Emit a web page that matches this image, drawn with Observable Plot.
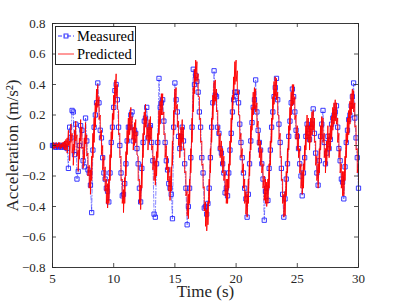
<!DOCTYPE html>
<html><head><meta charset="utf-8">
<script src="https://cdn.jsdelivr.net/npm/d3@7"></script>
<script src="https://cdn.jsdelivr.net/npm/@observablehq/plot@0.6"></script>
<style>
body{margin:0;background:#fff;}
#wrap{position:relative;width:396px;height:306px;}
#legend{position:absolute;left:55px;top:26px;width:79px;height:37px;border:0.8px solid #262626;background:#fff;font-family:"Liberation Serif",serif;font-size:14.5px;color:#000;}
#legend .row{position:absolute;left:0;height:18px;display:flex;align-items:center;}
#legend svg{margin-left:1px;margin-right:2px;}
</style></head><body><div id="wrap"></div>
<script>
const t0 = 5, dt = 0.1;
const measured = [
 0.00, 0.00,-0.01,-0.01, 0.00,-0.01, 0.00,-0.01,-0.01, 0.00,
-0.01, 0.01,-0.02,-0.15, 0.12, 0.05, 0.23, 0.22,-0.06, 0.14,
-0.22,-0.17, 0.00, 0.13, 0.10,-0.10,-0.14, 0.18, 0.03,-0.16,
-0.18,-0.26,-0.44,-0.03, 0.12, 0.20, 0.28, 0.41, 0.28, 0.10,
 0.05,-0.08,-0.18,-0.22,-0.28,-0.30,-0.37,-0.18, 0.02, 0.12,
 0.25, 0.36, 0.40, 0.30, 0.12, 0.00,-0.18,-0.33,-0.32,-0.25,
-0.12, 0.03, 0.12, 0.12, 0.20, 0.22, 0.03, 0.10, 0.08,-0.02,
-0.12,-0.28,-0.37,-0.15, 0.02, 0.16, 0.18, 0.25, 0.05, 0.12,
 0.13, 0.02,-0.10,-0.45,-0.47,-0.12, 0.02, 0.44, 0.25, 0.28,
 0.30, 0.16, 0.02,-0.10,-0.16,-0.25,-0.28,-0.32,-0.48, 0.12,
 0.41, 0.30, 0.22, 0.06,-0.02, 0.06, 0.12, 0.03,-0.12,-0.28,
-0.52,-0.40,-0.28,-0.08, 0.12, 0.50, 0.40, 0.46, 0.42, 0.35,
 0.22, 0.12,-0.08,-0.18,-0.41,-0.40,-0.45,-0.38,-0.28,-0.08,
 0.12, 0.28, 0.49, 0.33, 0.32, 0.12, 0.08,-0.02,-0.05,-0.12,
-0.18,-0.31,-0.28,-0.33,-0.18,-0.03, 0.08, 0.22, 0.30, 0.35,
 0.32, 0.35, 0.28, 0.14, 0.02,-0.08,-0.18,-0.28,-0.35,-0.47,
-0.32,-0.12, 0.03, 0.15, 0.25, 0.30, 0.43, 0.22, 0.10, 0.02,
-0.03,-0.12,-0.22,-0.49,-0.30,-0.28,-0.36,-0.15,-0.03, 0.12,
 0.22, 0.32, 0.38, 0.44, 0.30, 0.14, 0.02,-0.15,-0.32,-0.47,
-0.35,-0.22,-0.12, 0.06, 0.16, 0.28, 0.37, 0.32, 0.22, 0.10,
 0.06,-0.02,-0.12,-0.20,-0.33,-0.18,-0.08, 0.06, 0.14, 0.08,
 0.04, 0.12, 0.14, 0.24, 0.08,-0.05,-0.18,-0.26,-0.10, 0.06,
 0.14, 0.23, 0.02,-0.12,-0.05, 0.06,-0.02, 0.04, 0.14, 0.18,
 0.20, 0.22, 0.26, 0.12,-0.02,-0.10,-0.22,-0.24,-0.35,-0.14,
 0.02, 0.10, 0.17, 0.20, 0.26, 0.32, 0.41, 0.18, 0.05,-0.08,
-0.28];
const predictedHigh = [
 0.01, 0.02, 0.01, 0.02, 0.01, 0.02, 0.02, 0.01, 0.02, 0.02,
 0.03, 0.04, 0.05, 0.10, 0.03, 0.14, 0.08, 0.01, 0.10, 0.16,
 0.07,-0.03, 0.05, 0.17, 0.12,-0.01, 0.05, 0.15, 0.07,-0.05,
-0.13,-0.16,-0.07, 0.08, 0.18, 0.28, 0.37, 0.40, 0.32, 0.20,
 0.10, 0.00,-0.07,-0.14,-0.22,-0.25,-0.22,-0.06, 0.09, 0.21,
 0.33, 0.43, 0.47, 0.40, 0.23, 0.08,-0.07,-0.22,-0.29,-0.21,
-0.04, 0.10, 0.18, 0.22, 0.25, 0.19, 0.12, 0.15, 0.17, 0.09,
-0.07,-0.22,-0.26,-0.12, 0.08, 0.22, 0.27, 0.19, 0.12, 0.17,
 0.19, 0.12, 0.00,-0.07,-0.10,-0.04, 0.08, 0.23, 0.29, 0.34,
 0.34, 0.22, 0.08, 0.00,-0.07,-0.14,-0.20,-0.14, 0.03, 0.23,
 0.37, 0.38, 0.27, 0.16, 0.08, 0.12, 0.17, 0.12,-0.02,-0.17,
-0.30,-0.32,-0.22,-0.02, 0.18, 0.38, 0.50, 0.56, 0.55, 0.47,
 0.32, 0.18, 0.03,-0.12,-0.27,-0.37,-0.42,-0.37,-0.22,-0.02,
 0.18, 0.33, 0.42, 0.43, 0.37, 0.23, 0.13, 0.08, 0.03,-0.02,
-0.07,-0.17,-0.22,-0.22,-0.12, 0.03, 0.18, 0.33, 0.45, 0.55,
 0.56, 0.49, 0.36, 0.20, 0.08,-0.02,-0.12,-0.22,-0.30,-0.32,
-0.22,-0.04, 0.13, 0.25, 0.35, 0.38, 0.37, 0.28, 0.16, 0.08,
 0.03,-0.02,-0.12,-0.20,-0.22,-0.24,-0.22,-0.12, 0.03, 0.18,
 0.32, 0.42, 0.45, 0.44, 0.35, 0.20, 0.08,-0.07,-0.22,-0.32,
-0.30,-0.17,-0.02, 0.13, 0.25, 0.35, 0.40, 0.40, 0.32, 0.20,
 0.13, 0.08,-0.02,-0.12,-0.17,-0.12, 0.00, 0.13, 0.20, 0.18,
 0.13, 0.18, 0.22, 0.23, 0.18, 0.03,-0.07,-0.12,-0.02, 0.13,
 0.19, 0.18, 0.08,-0.02, 0.03, 0.13, 0.08, 0.13, 0.19, 0.25,
 0.28, 0.30, 0.28, 0.18, 0.08,-0.02,-0.12,-0.17,-0.17,-0.07,
 0.08, 0.18, 0.23, 0.29, 0.34, 0.37, 0.36, 0.28, 0.13,-0.02,
-0.12];
const predictedLow = [
-0.01,-0.02,-0.02,-0.01,-0.02,-0.01,-0.02,-0.02,-0.01,-0.02,
-0.03,-0.03,-0.05, 0.00,-0.10, 0.02,-0.05,-0.13,-0.03, 0.03,
-0.07,-0.17,-0.09, 0.03,-0.02,-0.15,-0.09, 0.01,-0.07,-0.20,
-0.28,-0.32,-0.23,-0.08, 0.02, 0.12, 0.22, 0.25, 0.17, 0.04,
-0.06,-0.16,-0.23,-0.30,-0.38,-0.41,-0.38,-0.23,-0.08, 0.04,
 0.17, 0.27, 0.32, 0.24, 0.07,-0.08,-0.23,-0.38,-0.44,-0.38,
-0.20,-0.06, 0.02, 0.07, 0.10, 0.04,-0.03, 0.00, 0.02,-0.06,
-0.23,-0.38,-0.42,-0.28,-0.08, 0.07, 0.12, 0.04,-0.03, 0.02,
 0.04,-0.03,-0.16,-0.23,-0.26,-0.20,-0.08, 0.07, 0.14, 0.20,
 0.20, 0.07,-0.08,-0.16,-0.23,-0.30,-0.36,-0.30,-0.13, 0.07,
 0.22, 0.24, 0.12, 0.00,-0.08,-0.03, 0.02,-0.03,-0.18,-0.33,
-0.46,-0.48,-0.38,-0.18, 0.02, 0.22, 0.34, 0.42, 0.42, 0.32,
 0.17, 0.02,-0.13,-0.28,-0.43,-0.53,-0.56,-0.52,-0.38,-0.18,
 0.02, 0.17, 0.27, 0.29, 0.22, 0.07,-0.03,-0.08,-0.13,-0.18,
-0.23,-0.33,-0.38,-0.38,-0.28,-0.13, 0.02, 0.17, 0.30, 0.40,
 0.42, 0.34, 0.20, 0.04,-0.08,-0.18,-0.28,-0.38,-0.45,-0.47,
-0.38,-0.20,-0.03, 0.10, 0.20, 0.24, 0.22, 0.12, 0.00,-0.08,
-0.13,-0.18,-0.28,-0.36,-0.38,-0.40,-0.38,-0.28,-0.13, 0.02,
 0.17, 0.27, 0.32, 0.30, 0.20, 0.04,-0.08,-0.23,-0.38,-0.47,
-0.46,-0.33,-0.18,-0.03, 0.10, 0.20, 0.26, 0.27, 0.17, 0.04,
-0.03,-0.08,-0.18,-0.28,-0.32,-0.28,-0.16,-0.03, 0.04, 0.02,
-0.03, 0.02, 0.07, 0.10, 0.02,-0.13,-0.23,-0.28,-0.18,-0.03,
 0.04, 0.02,-0.08,-0.18,-0.13,-0.03,-0.08,-0.03, 0.04, 0.10,
 0.14, 0.16, 0.14, 0.02,-0.08,-0.18,-0.28,-0.33,-0.33,-0.23,
-0.08, 0.02, 0.07, 0.14, 0.20, 0.24, 0.22, 0.12,-0.03,-0.18,
-0.24];
const xTicks = [5, 10, 15, 20, 25, 30];
const yTicks = [-0.8, -0.6, -0.4, -0.2, 0, 0.2, 0.4, 0.6, 0.8];
const seriesNames = ["Measured", "Predicted"];
const seriesColors = ["#0000ff", "#ff0000"];
const xLabel = "Time (s)";
const yLabel = "Acceleration (m/s\u00b2)";

const time = measured.map((_, i) => +(t0 + i * dt).toFixed(2));
const mData = measured.map((v, i) => ({t: time[i], v}));
// predicted band: trace the read high and low values at each sample
const pData = [];
predictedHigh.forEach((h, i) => { pData.push({t: time[i], v: h}); pData.push({t: time[i], v: predictedLow[i]}); });
const fmtY = d => d === 0 ? "0" : d.toFixed(1).replace("-", "\u2212");

const W = 396, H = 306, ML = 52, MR = 38, MT = 23, MB = 39;
const FW = W - ML - MR, FH = H - MT - MB, TL = 4;

const chart = Plot.plot({
  width: W, height: H,
  marginLeft: ML, marginRight: MR, marginTop: MT, marginBottom: MB,
  style: {fontFamily: "'Liberation Serif', serif", fontSize: "13px", background: "#fff", color: "#262626"},
  x: {domain: [5, 30]},
  y: {domain: [-0.8, 0.8]},
  marks: [
    Plot.line(mData, {x: "t", y: "v", stroke: seriesColors[0], strokeWidth: 0.6, strokeDasharray: "4,2,1,2", strokeOpacity: 0.8}),
    Plot.dot(mData, {x: "t", y: "v", symbol: "square", r: 2.4, stroke: "#2222ff", strokeWidth: 0.9, fill: "none"}),
    Plot.line(pData, {x: "t", y: "v", stroke: seriesColors[1], strokeWidth: 0.9}),
    Plot.ruleX(xTicks, {x: d => d, stroke: "#262626", strokeWidth: 0.8, insetTop: FH - TL}),
    Plot.ruleX(xTicks, {x: d => d, stroke: "#262626", strokeWidth: 0.8, insetBottom: FH - TL}),
    Plot.ruleY(yTicks, {y: d => d, stroke: "#262626", strokeWidth: 0.8, insetRight: FW - TL}),
    Plot.ruleY(yTicks, {y: d => d, stroke: "#262626", strokeWidth: 0.8, insetLeft: FW - TL}),
    Plot.frame({stroke: "#262626", strokeWidth: 0.9}),
    Plot.axisX({anchor: "bottom", ticks: xTicks, tickSize: 0, tickPadding: 6, label: null, fill: "#262626"}),
    Plot.axisY({anchor: "left", ticks: yTicks, tickSize: 0, tickPadding: 7, tickFormat: fmtY, label: null, fill: "#262626"}),
    Plot.text([xLabel], {frameAnchor: "bottom", dy: 29, fontSize: 17, fill: "#262626", text: d => d}),
    Plot.text([yLabel], {frameAnchor: "left", textAnchor: "middle", dx: -40, rotate: -90, fontSize: 17, fill: "#262626", text: d => d})
  ]
});
const wrap = document.getElementById("wrap");
wrap.appendChild(chart);

// legend
const lg = document.createElement("div");
lg.id = "legend";
seriesNames.forEach((name, i) => {
  const row = document.createElement("div");
  row.className = "row";
  row.style.top = (i === 0 ? 0 : 18) + "px";
  const col = seriesColors[i];
  let sw = `<svg width="18" height="14"><line x1="1" x2="17" y1="7" y2="7" stroke="${col}" stroke-width="0.8" ${i === 0 ? 'stroke-dasharray="4,2,1,2"' : ''}/>`;
  if (i === 0) sw += `<rect x="7" y="5" width="4" height="4" fill="none" stroke="#2222ff" stroke-width="0.9"/>`;
  sw += `</svg>`;
  row.innerHTML = sw + `<span>${name}</span>`;
  lg.appendChild(row);
});
wrap.appendChild(lg);
</script>
</body></html>
